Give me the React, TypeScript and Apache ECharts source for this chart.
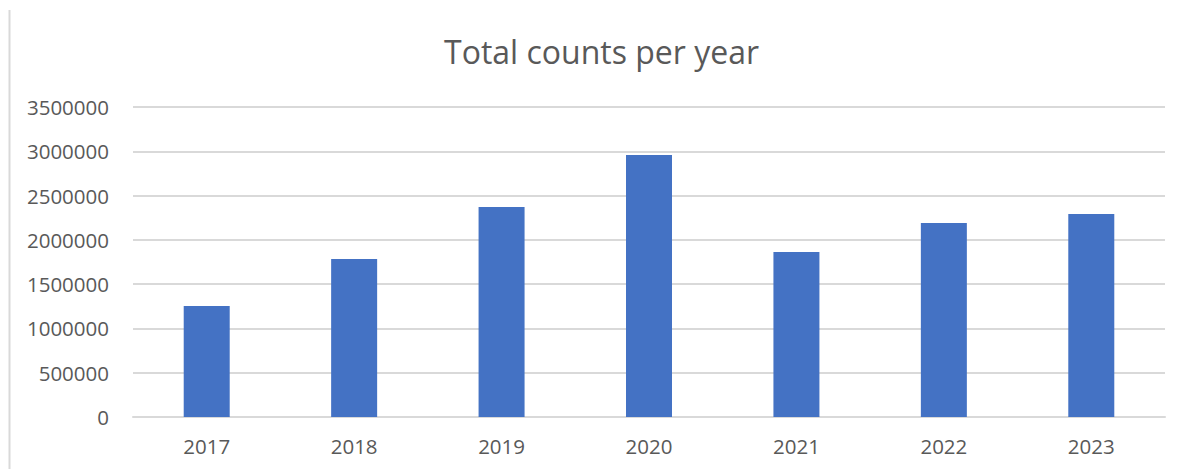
import React, { useEffect, useRef } from "react";
import * as echarts from "echarts";

const years = ["2017", "2018", "2019", "2020", "2021", "2022", "2023"];
const totals = [1253000, 1784000, 2371000, 2958000, 1863000, 2190000, 2292000];

export default function App() {
  const ref = useRef<HTMLDivElement>(null);
  useEffect(() => {
    const chart = echarts.init(ref.current!, null, { renderer: "svg" });
    chart.setOption({
      animation: false,
      backgroundColor: "#ffffff",
      title: {
        text: "Total counts per year",
        left: 439,
        top: 30,
        textStyle: { fontFamily: "Open Sans", fontSize: 32, fontWeight: "normal", color: "#595959" },
      },
      grid: { left: 133, right: 19, top: 107, bottom: 52 },
      xAxis: {
        type: "category",
        data: years,
        axisLine: { show: true, lineStyle: { color: "#d9d9d9", width: 2 } },
        axisTick: { show: false },
        axisLabel: { fontFamily: "Open Sans", fontSize: 20.5, color: "#595959", margin: 18 },
      },
      yAxis: {
        type: "value",
        min: 0,
        max: 3500000,
        interval: 500000,
        axisLine: { show: false },
        axisTick: { show: false },
        splitLine: { lineStyle: { color: "#d9d9d9", width: 2 } },
        axisLabel: {
          fontFamily: "Open Sans",
          fontSize: 20.5,
          color: "#595959",
          margin: 24,
          formatter: (v: number) => String(v),
        },
      },
      series: [
        {
          type: "bar",
          data: totals,
          barWidth: 46,
          itemStyle: { color: "#4472C4" },
        },
      ],
      graphic: [
        {
          type: "line",
          shape: { x1: 9.5, y1: 10, x2: 9.5, y2: 469 },
          style: { stroke: "#d9d9d9", lineWidth: 2 },
        },
      ],
    });
    return () => chart.dispose();
  }, []);
  return <div ref={ref} style={{ position: "absolute", left: 0, top: 0, width: 1184, height: 469 }} />;
}
